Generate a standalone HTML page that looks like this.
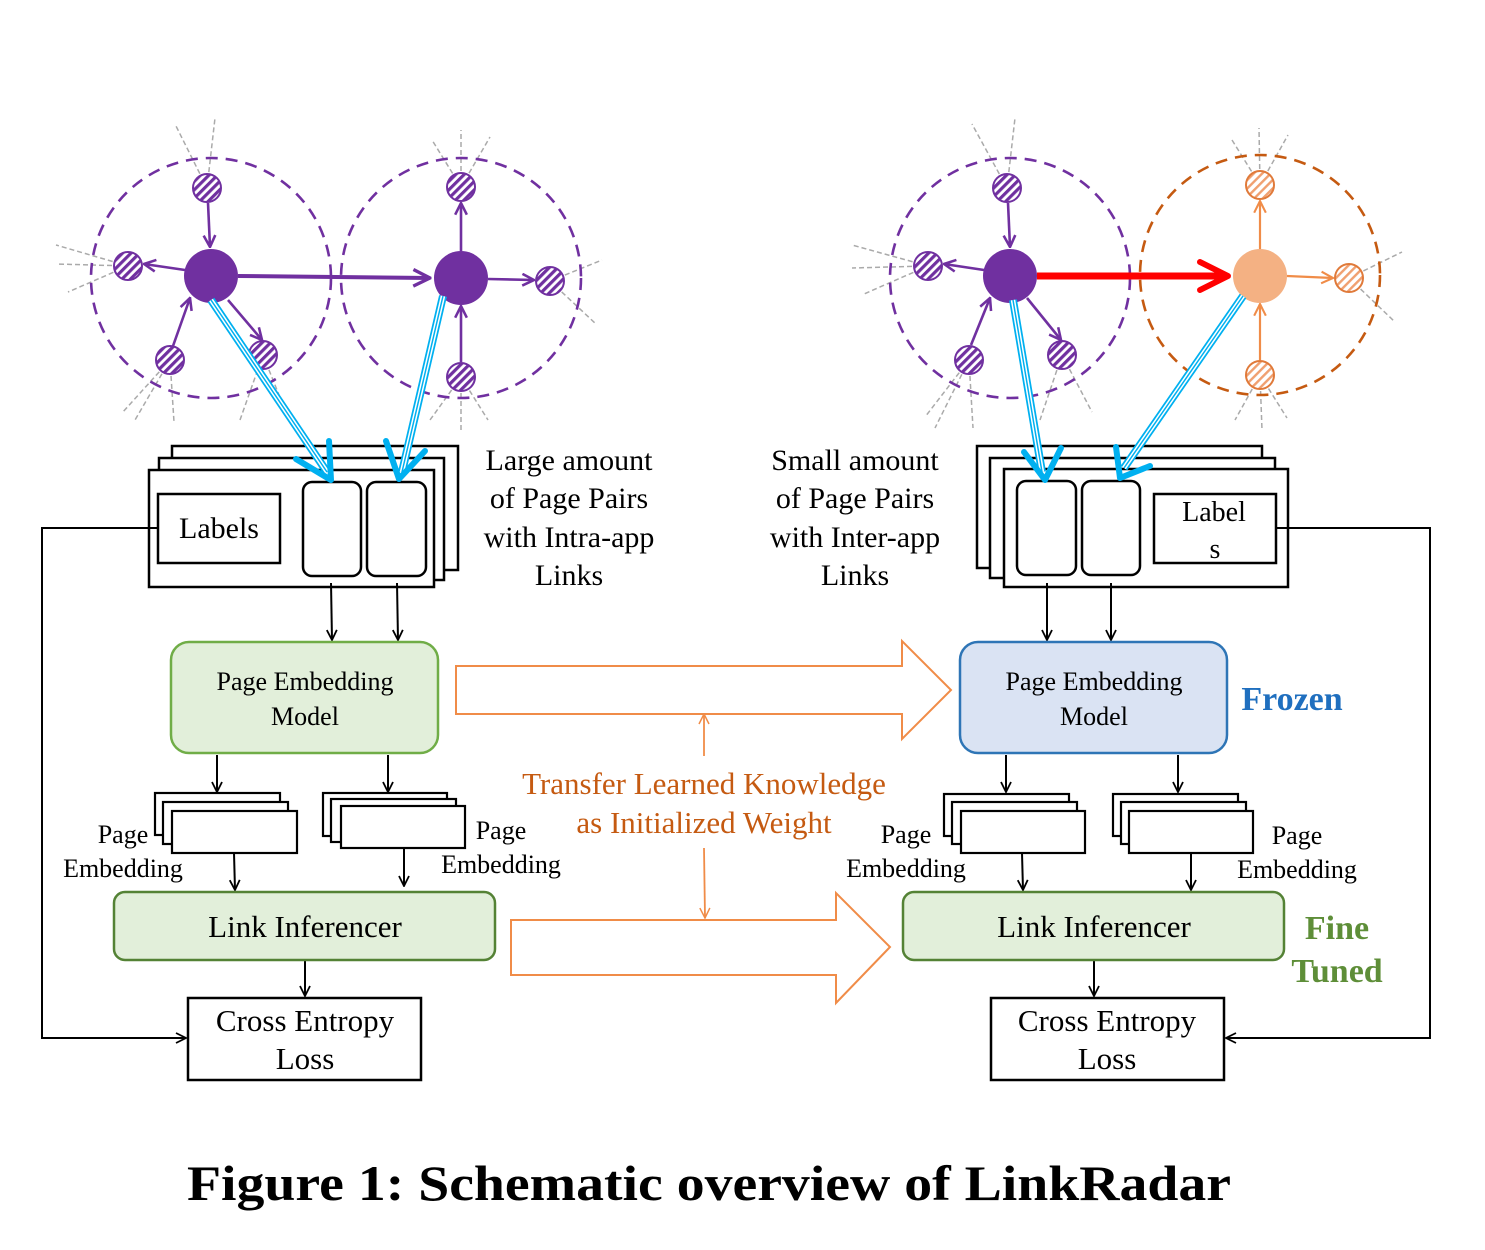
<!DOCTYPE html>
<html><head><meta charset="utf-8"><style>
html,body{margin:0;padding:0;background:#fff}
svg{display:block}
text{font-family:"Liberation Serif",serif}
</style></head><body>
<svg width="1485" height="1250" viewBox="0 0 1485 1250" xmlns="http://www.w3.org/2000/svg">
<defs>
<pattern id="hp" width="6" height="6" patternUnits="userSpaceOnUse" patternTransform="rotate(45)">
<rect width="6" height="6" fill="#fff"/><rect width="3.2" height="6" fill="#7030a0"/></pattern>
<pattern id="ho" width="6" height="6" patternUnits="userSpaceOnUse" patternTransform="rotate(45)">
<rect width="6" height="6" fill="#fff"/><rect width="2.4" height="6" fill="#f0a070"/></pattern>
<marker id="ab" viewBox="0 0 12 12" refX="11" refY="6" markerWidth="12" markerHeight="12" markerUnits="userSpaceOnUse" orient="auto"><path d="M1,1 L11,6 L1,11" fill="none" stroke="#000" stroke-width="1.8"/></marker>
<marker id="ap" viewBox="0 0 12 12" refX="11" refY="6" markerWidth="14" markerHeight="14" markerUnits="userSpaceOnUse" orient="auto"><path d="M1,1 L11,6 L1,11" fill="none" stroke="#7030a0" stroke-width="2.2"/></marker>
<marker id="apb" viewBox="0 0 12 12" refX="11" refY="6" markerWidth="20" markerHeight="20" markerUnits="userSpaceOnUse" orient="auto"><path d="M1,1 L11,6 L1,11" fill="none" stroke="#7030a0" stroke-width="2"/></marker>
<marker id="ao" viewBox="0 0 12 12" refX="11" refY="6" markerWidth="14" markerHeight="14" markerUnits="userSpaceOnUse" orient="auto"><path d="M1,1 L11,6 L1,11" fill="none" stroke="#f08c48" stroke-width="1.8"/></marker>
<marker id="aot" viewBox="0 0 12 12" refX="11" refY="6" markerWidth="12" markerHeight="12" markerUnits="userSpaceOnUse" orient="auto"><path d="M1,1 L11,6 L1,11" fill="none" stroke="#f08c48" stroke-width="1.5"/></marker>
</defs>

<g stroke="#aaa" stroke-width="1.5" stroke-dasharray="5,3" fill="none">
<path d="M207,188 L175,124 M207,188 L215,118"/>
<path d="M128,266 L56,245 M128,266 L56,264 M128,266 L68,292"/>
<path d="M170,360 L122,413 M170,360 L135,420 M170,360 L174,422"/>
<path d="M263,355 L240,420 M263,355 L285,410"/>
<path d="M461,187 L432,140 M461,187 L461,130 M461,187 L490,137"/>
<path d="M550,281 L602,260 M550,281 L596,324"/>
<path d="M461,377 L430,420 M461,377 L461,430 M461,377 L488,420"/>
<path d="M1007,188 L972,124 M1007,188 L1015,118"/>
<path d="M928,266 L852,245 M928,266 L852,268 M928,266 L864,294"/>
<path d="M969,360 L925,417 M969,360 L935,428 M969,360 L973,428"/>
<path d="M1062,355 L1040,420 M1062,355 L1092,412"/>
<path d="M1260,185 L1232,140 M1260,185 L1259,128 M1260,185 L1288,135"/>
<path d="M1349,278 L1402,252 M1349,278 L1395,322"/>
<path d="M1260,375 L1235,420 M1260,375 L1262,430 M1260,375 L1287,418"/>
</g>

<g fill="none" stroke-width="2.6" stroke-dasharray="12,8">
<circle cx="211" cy="278" r="120" stroke="#7030a0"/>
<circle cx="461" cy="278" r="120" stroke="#7030a0"/>
<circle cx="1010" cy="278" r="120" stroke="#7030a0"/>
<circle cx="1260" cy="275" r="120" stroke="#c55a11"/>
</g>

<g stroke="#7030a0" stroke-width="2.6" fill="none" marker-end="url(#ap)">
<line x1="208" y1="203" x2="210" y2="247"/>
<line x1="185" y1="270" x2="144" y2="264"/>
<line x1="173" y1="346" x2="190" y2="298"/>
<line x1="228" y1="300" x2="262" y2="340"/>
<line x1="461" y1="251" x2="461" y2="203"/>
<line x1="488" y1="279" x2="534" y2="280"/>
<line x1="461" y1="362" x2="461" y2="306"/>
<line x1="1008" y1="203" x2="1010" y2="247"/>
<line x1="984" y1="270" x2="944" y2="264"/>
<line x1="971" y1="345" x2="990" y2="298"/>
<line x1="1027" y1="298" x2="1061" y2="340"/>
</g>
<line x1="238" y1="276" x2="430" y2="278" stroke="#7030a0" stroke-width="4" marker-end="url(#apb)"/>
<g stroke="#f08c48" stroke-width="2.2" fill="none" marker-end="url(#ao)">
<line x1="1260" y1="249" x2="1260" y2="201"/>
<line x1="1287" y1="276" x2="1333" y2="278"/>
<line x1="1260" y1="360" x2="1260" y2="304"/>
</g>
<line x1="1037" y1="276" x2="1225" y2="276" stroke="#ff0000" stroke-width="7"/>
<path d="M1200,262 L1228,276 L1200,290" fill="none" stroke="#ff0000" stroke-width="6" stroke-linecap="round" stroke-linejoin="round"/>

<g stroke="#7030a0" stroke-width="2" fill="url(#hp)">
<circle cx="207" cy="188" r="14"/><circle cx="128" cy="266" r="14"/><circle cx="170" cy="360" r="14"/><circle cx="263" cy="355" r="14"/>
<circle cx="461" cy="187" r="14"/><circle cx="550" cy="281" r="14"/><circle cx="461" cy="377" r="14"/>
<circle cx="1007" cy="188" r="14"/><circle cx="928" cy="266" r="14"/><circle cx="969" cy="360" r="14"/><circle cx="1062" cy="355" r="14"/>
</g>
<g stroke="#e07a3a" stroke-width="2" fill="url(#ho)">
<circle cx="1260" cy="185" r="14"/><circle cx="1349" cy="278" r="14"/><circle cx="1260" cy="375" r="14"/>
</g>
<circle cx="211" cy="276" r="27" fill="#7030a0"/>
<circle cx="461" cy="278" r="27" fill="#7030a0"/>
<circle cx="1010" cy="276" r="27" fill="#7030a0"/>
<circle cx="1260" cy="276" r="27" fill="#f4b183"/>

<g fill="#fff" stroke="#000" stroke-width="2.5">
<rect x="172" y="446" width="286" height="124"/>
<rect x="159" y="458" width="285" height="122"/>
<rect x="149" y="470" width="285" height="117"/>
<rect x="158" y="494" width="122" height="69"/>
<rect x="303" y="482" width="58" height="94" rx="9"/>
<rect x="367" y="482" width="59" height="94" rx="9"/>
</g>
<text x="219" y="538" font-size="30" text-anchor="middle">Labels</text>
<g fill="#fff" stroke="#000" stroke-width="2.5">
<rect x="977" y="446" width="285" height="122"/>
<rect x="990" y="458" width="285" height="120"/>
<rect x="1004" y="469" width="284" height="118"/>
<rect x="1017" y="481" width="59" height="94" rx="9"/>
<rect x="1082" y="481" width="58" height="94" rx="9"/>
<rect x="1154" y="494" width="122" height="69"/>
</g>
<text x="1214" y="521" font-size="28" text-anchor="middle" font-family="Liberation Mono, monospace">Label</text>
<text x="1215" y="558" font-size="28" text-anchor="middle">s</text>

<g fill="none" stroke-linecap="butt">
<g stroke="#00b0f0" stroke-width="8"><line x1="211" y1="300" x2="327" y2="472"/><line x1="443" y1="296" x2="402" y2="472"/><line x1="1013" y1="300" x2="1042" y2="472"/><line x1="1243" y1="296" x2="1124" y2="468"/></g>
<g stroke="#fff" stroke-width="4.5"><line x1="211" y1="300" x2="327" y2="472"/><line x1="443" y1="296" x2="402" y2="472"/><line x1="1013" y1="300" x2="1042" y2="472"/><line x1="1243" y1="296" x2="1124" y2="468"/></g>
<g stroke="#00b0f0" stroke-width="1.5"><line x1="211" y1="300" x2="327" y2="472"/><line x1="443" y1="296" x2="402" y2="472"/><line x1="1013" y1="300" x2="1042" y2="472"/><line x1="1243" y1="296" x2="1124" y2="468"/></g>
<g stroke="#00b0f0" stroke-width="6" stroke-linecap="round" stroke-linejoin="round">
<path d="M296,459 L331,480 L329,441"/>
<path d="M386,441 L399,479 L425,451"/>
<path d="M1024,452 L1045,480 L1061,448"/>
<path d="M1116,447 L1120,478 L1150,466"/>
</g>
</g>

<g font-size="30" text-anchor="middle">
<text x="569" y="470">Large amount</text><text x="569" y="508">of Page Pairs</text><text x="569" y="547">with Intra-app</text><text x="569" y="585">Links</text>
<text x="855" y="470">Small amount</text><text x="855" y="508">of Page Pairs</text><text x="855" y="547">with Inter-app</text><text x="855" y="585">Links</text>
</g>

<g stroke="#000" stroke-width="2" fill="none" marker-end="url(#ab)">
<line x1="331" y1="583" x2="332" y2="640"/><line x1="397" y1="583" x2="398" y2="640"/>
<line x1="1047" y1="583" x2="1047" y2="640"/><line x1="1111" y1="583" x2="1111" y2="640"/>
<line x1="217" y1="755" x2="217" y2="792"/><line x1="388" y1="755" x2="388" y2="792"/>
<line x1="1006" y1="755" x2="1006" y2="792"/><line x1="1178" y1="755" x2="1178" y2="792"/>
<line x1="234" y1="853" x2="235" y2="890"/><line x1="404" y1="848" x2="404" y2="886"/>
<line x1="1022" y1="853" x2="1023" y2="890"/><line x1="1191" y1="853" x2="1191" y2="890"/>
<line x1="305" y1="961" x2="305" y2="996"/><line x1="1094" y1="961" x2="1094" y2="996"/>
<polyline points="158,528 42,528 42,1038 186,1038"/>
<polyline points="1276,528 1430,528 1430,1038 1226,1038"/>
</g>

<rect x="171" y="642" width="267" height="111" rx="18" fill="#e2efda" stroke="#70ad47" stroke-width="2.5"/>
<text x="305" y="690" font-size="26" text-anchor="middle">Page Embedding</text>
<text x="305" y="725" font-size="26" text-anchor="middle">Model</text>
<rect x="960" y="642" width="267" height="111" rx="18" fill="#dae3f3" stroke="#2e75b6" stroke-width="2.5"/>
<text x="1094" y="690" font-size="26" text-anchor="middle">Page Embedding</text>
<text x="1094" y="725" font-size="26" text-anchor="middle">Model</text>
<text x="1292" y="710" font-size="34" font-weight="bold" fill="#1f6fbf" text-anchor="middle">Frozen</text>

<g fill="#fff" stroke="#000" stroke-width="2.2">
<rect x="155" y="793" width="125" height="42"/><rect x="163" y="802" width="125" height="42"/><rect x="172" y="811" width="125" height="42"/>
<rect x="323" y="793" width="124" height="43"/><rect x="331" y="799" width="125" height="43"/><rect x="341" y="806" width="124" height="42"/>
<rect x="944" y="794" width="125" height="42"/><rect x="952" y="802" width="125" height="42"/><rect x="961" y="811" width="124" height="42"/>
<rect x="1113" y="794" width="125" height="42"/><rect x="1121" y="802" width="125" height="42"/><rect x="1129" y="811" width="124" height="42"/>
</g>
<g font-size="26" text-anchor="middle">
<text x="123" y="843">Page</text><text x="123" y="877">Embedding</text>
<text x="501" y="839">Page</text><text x="501" y="873">Embedding</text>
<text x="906" y="843">Page</text><text x="906" y="877">Embedding</text>
<text x="1297" y="844">Page</text><text x="1297" y="878">Embedding</text>
</g>

<rect x="114" y="892" width="381" height="68" rx="11" fill="#e2efda" stroke="#548235" stroke-width="2.5"/>
<text x="305" y="937" font-size="31" text-anchor="middle">Link Inferencer</text>
<rect x="903" y="892" width="381" height="68" rx="11" fill="#e2efda" stroke="#548235" stroke-width="2.5"/>
<text x="1094" y="937" font-size="31" text-anchor="middle">Link Inferencer</text>
<text x="1337" y="939" font-size="34" font-weight="bold" fill="#5e8e38" text-anchor="middle">Fine</text>
<text x="1337" y="982" font-size="34" font-weight="bold" fill="#5e8e38" text-anchor="middle">Tuned</text>

<rect x="188" y="998" width="233" height="82" fill="#fff" stroke="#000" stroke-width="2.5"/>
<text x="305" y="1031" font-size="31" text-anchor="middle">Cross Entropy</text>
<text x="305" y="1069" font-size="31" text-anchor="middle">Loss</text>
<rect x="991" y="998" width="233" height="82" fill="#fff" stroke="#000" stroke-width="2.5"/>
<text x="1107" y="1031" font-size="31" text-anchor="middle">Cross Entropy</text>
<text x="1107" y="1069" font-size="31" text-anchor="middle">Loss</text>

<path d="M456,666 L902,666 L902,641 L951,690 L902,739 L902,714 L456,714 Z" fill="none" stroke="#f08c48" stroke-width="2"/>
<path d="M511,920 L836,920 L836,893 L890,947 L836,1003 L836,975 L511,975 Z" fill="none" stroke="#f08c48" stroke-width="2"/>
<g stroke="#f08c48" stroke-width="1.8" marker-end="url(#aot)">
<line x1="704" y1="756" x2="704" y2="714"/>
<line x1="704" y1="848" x2="705" y2="918"/>
</g>
<g font-size="31" fill="#c55a11" text-anchor="middle">
<text x="704" y="794">Transfer Learned Knowledge</text>
<text x="704" y="833">as Initialized Weight</text>
</g>

<text x="709" y="1200" font-size="50" font-weight="bold" text-anchor="middle" textLength="1044" lengthAdjust="spacingAndGlyphs">Figure 1: Schematic overview of LinkRadar</text>
</svg>
</body></html>
